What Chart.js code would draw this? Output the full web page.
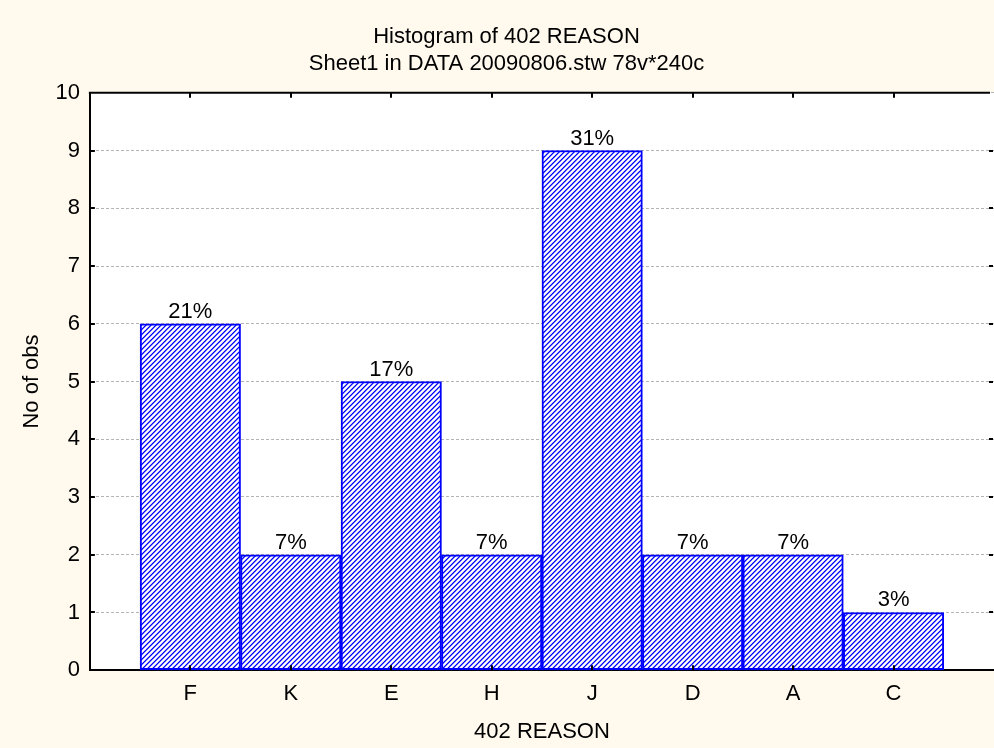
<!DOCTYPE html>
<html>
<head>
<meta charset="utf-8">
<script src="https://cdn.jsdelivr.net/npm/chart.js@4/dist/chart.umd.min.js"></script>
<style>
  html, body { margin: 0; padding: 0; background: #FFF9EE; }
  #wrap { width: 994px; height: 748px; }
</style>
</head>
<body>
<div id="wrap"><canvas id="c" width="994" height="748"></canvas></div>
<script>
// ---- data ----
const categories = ['F', 'K', 'E', 'H', 'J', 'D', 'A', 'C'];
const counts = [6, 2, 5, 2, 9, 2, 2, 1];
const percentLabels = ['21%', '7%', '17%', '7%', '31%', '7%', '7%', '3%'];
const yTickValues = [0, 1, 2, 3, 4, 5, 6, 7, 8, 9, 10];
const titleLines = ['Histogram of 402 REASON', 'Sheet1 in DATA 20090806.stw 78v*240c'];
const xTitle = '402 REASON';
const yTitle = 'No of obs';

const FONT = '"Liberation Sans", Arial, sans-serif';
const FS = 22;

// hatch pattern
function makeHatch() {
  const s = 5;
  const c = document.createElement('canvas');
  c.width = s; c.height = s;
  const g = c.getContext('2d');
  const img = g.createImageData(s, s);
  const cols = [[0, 0, 255], [110, 110, 255], [255, 255, 255], [255, 255, 255], [200, 200, 255]];
  for (let y = 0; y < s; y++) {
    for (let x = 0; x < s; x++) {
      const k = (x + y) % s;
      const col = cols[k];
      const i = (y * s + x) * 4;
      img.data[i] = col[0]; img.data[i + 1] = col[1]; img.data[i + 2] = col[2]; img.data[i + 3] = 255;
    }
  }
  g.putImageData(img, 0, 0);
  return document.getElementById('c').getContext('2d').createPattern(c, 'repeat');
}

const bgPlugin = {
  id: 'bg',
  beforeDraw(chart) {
    const { ctx, chartArea: a } = chart;
    ctx.save();
    ctx.fillStyle = '#FFF9EE';
    ctx.fillRect(0, 0, chart.width, chart.height);
    ctx.fillStyle = '#FFFFFF';
    ctx.fillRect(a.left, a.top, a.right - a.left, a.bottom - a.top);
    ctx.restore();
  }
};

const framePlugin = {
  id: 'frame',
  afterDraw(chart) {
    const { ctx, chartArea: a, scales } = chart;
    ctx.save();
    ctx.strokeStyle = '#000';
    ctx.lineWidth = 2;
    ctx.beginPath();
    ctx.moveTo(a.left - 1, a.top);
    ctx.lineTo(a.right - 4, a.top);
    ctx.stroke();
    yTickValues.forEach(v => {
      if (v === 0 || v === 10) return;
      const y = Math.round(scales.y.getPixelForValue(v));
      ctx.beginPath();
      ctx.moveTo(a.left, y); ctx.lineTo(a.left + 5, y);
      ctx.moveTo(a.right - 5, y); ctx.lineTo(a.right - 1, y);
      ctx.stroke();
    });
    categories.forEach((c, i) => {
      const x = Math.round(scales.x.getPixelForValue(i + 1));
      ctx.beginPath();
      ctx.moveTo(x, a.bottom); ctx.lineTo(x, a.bottom - 5);
      ctx.moveTo(x, a.top); ctx.lineTo(x, a.top + 5);
      ctx.stroke();
    });
    ctx.restore();
  }
};

const labelPlugin = {
  id: 'barLabels',
  afterDatasetsDraw(chart) {
    const { ctx } = chart;
    const meta = chart.getDatasetMeta(0);
    ctx.save();
    ctx.fillStyle = '#000';
    ctx.font = FS + 'px ' + FONT;
    ctx.textAlign = 'center';
    ctx.textBaseline = 'alphabetic';
    meta.data.forEach((el, i) => {
      ctx.fillText(percentLabels[i], el.x, el.y - 6);
    });
    ctx.restore();
  }
};

new Chart(document.getElementById('c'), {
  type: 'bar',
  data: {
    datasets: [{
      data: counts.map((v, i) => ({ x: i + 1, y: v })),
      backgroundColor: makeHatch(),
      borderColor: '#0000FF',
      borderWidth: 2,
      borderSkipped: false,
      barPercentage: 1.0,
      categoryPercentage: 1.0
    }]
  },
  options: {
    responsive: false,
    animation: false,
    devicePixelRatio: 1,
    layout: { padding: { left: 19, right: 0, top: 0, bottom: 3 } },
    plugins: {
      legend: { display: false },
      tooltip: { enabled: false },
      title: {
        display: true,
        text: titleLines,
        color: '#000',
        font: { family: FONT, size: FS, weight: 'normal', lineHeight: 1.2 },
        padding: { top: 24, bottom: 16 }
      }
    },
    scales: {
      x: {
        type: 'linear',
        min: 0,
        max: 9,
        offset: false,
        grid: { display: false, drawTicks: false },
        border: { display: true, color: '#000', width: 2 },
        afterFit: (s) => { s.paddingRight = 0; s.paddingLeft = 0; },
        ticks: {
          stepSize: 1,
          autoSkip: false,
          maxRotation: 0,
          padding: 11,
          color: '#000',
          font: { family: FONT, size: FS },
          callback: (v) => (Number.isInteger(v) && v >= 1 && v <= categories.length) ? categories[v - 1] : ''
        },
        title: {
          display: true,
          text: xTitle,
          color: '#000',
          font: { family: FONT, size: FS },
          padding: { top: 0, bottom: 0 }
        }
      },
      y: {
        min: 0,
        max: 10,
        grid: { display: true, drawTicks: false, color: '#B4B4B4', lineWidth: 1 },
        border: { display: true, color: '#000', width: 2, dash: [3, 2] },
        afterBuildTicks: (s) => { s.ticks = yTickValues.map(v => ({ value: v })); },
        ticks: {
          padding: 10,
          color: '#000',
          font: { family: FONT, size: FS }
        },
        title: {
          display: true,
          text: yTitle,
          color: '#000',
          font: { family: FONT, size: FS },
          padding: { top: 0, bottom: 0 }
        }
      }
    }
  },
  plugins: [bgPlugin, labelPlugin, framePlugin]
});
</script>
</body>
</html>
